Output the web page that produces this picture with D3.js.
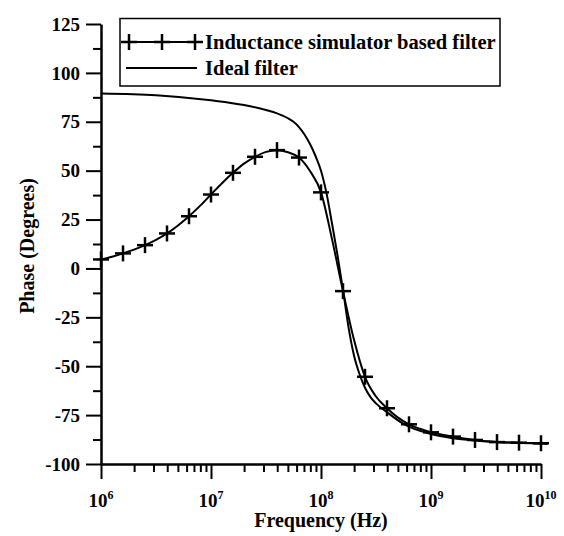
<!DOCTYPE html>
<html>
<head>
<meta charset="utf-8">
<script src="https://cdn.jsdelivr.net/npm/d3@7"></script>
<style>
  html, body { margin: 0; padding: 0; background: #fff; }
  svg { display: block; }
  text { font-family: "Liberation Serif", "Times New Roman", serif; font-weight: bold; fill: #000; }
</style>
</head>
<body>
<svg id="chart" width="564" height="536"></svg>
<script>
// ---- data (log10 of frequency in Hz, phase in degrees) ----
const seriesNames = ["Inductance simulator based filter", "Ideal filter"];

const simLogF = [6.0, 6.1, 6.2, 6.3, 6.4, 6.5, 6.6, 6.7, 6.8, 6.9, 7.0, 7.1, 7.2, 7.3, 7.4, 7.5, 7.6, 7.7, 7.8, 7.9,
                 8.0, 8.1, 8.2, 8.3, 8.4, 8.5, 8.6, 8.7, 8.8, 8.9, 9.0, 9.1, 9.2, 9.3, 9.4, 9.5, 9.6, 9.7, 9.8, 9.9, 10.0, 10.06];
const simPhase = [4.6, 6.0, 7.7, 9.6, 11.9, 14.6, 17.9, 22.0, 26.7, 32.0, 37.8, 43.6, 48.9, 53.6, 57.1, 59.6, 60.5, 59.4, 56.7, 49.8,
                  38.9, 15.0, -11.6, -36.5, -55.4, -65.5, -71.5, -76.3, -79.7, -82.0, -83.8, -85.0, -86.0, -87.0, -87.7, -88.3, -88.8, -89.0, -89.1, -89.3, -89.4, -89.5];

const markerLogF = [6.0, 6.2, 6.4, 6.6, 6.8, 7.0, 7.2, 7.4, 7.6, 7.8, 8.0, 8.2, 8.4, 8.6, 8.8, 9.0, 9.2, 9.4, 9.6, 9.8, 10.0];
const markerPhase = [4.6, 7.7, 11.9, 17.9, 26.7, 37.8, 48.9, 57.1, 60.5, 56.7, 38.9, -11.6, -55.4, -71.5, -79.7, -83.8, -86.0, -87.7, -88.8, -89.1, -89.4];

const idealLogF = [6.0, 6.5, 7.0, 7.3, 7.5, 7.6, 7.7, 7.75, 7.8, 7.85, 7.9, 7.95, 8.0, 8.05, 8.1, 8.15, 8.2, 8.25, 8.3, 8.35,
                   8.4, 8.45, 8.5, 8.6, 8.75, 9.0, 9.2, 9.4, 9.6, 9.8, 10.0, 10.06];
const idealPhase = [89.5, 88.6, 86.0, 83.6, 81.0, 79.3, 76.8, 75.0, 72.3, 68.5, 63.6, 57.5, 50.0, 38.5, 23.0, 6.8, -11.0, -30.0, -44.5, -54.0,
                    -61.0, -65.8, -69.0, -73.5, -79.5, -84.7, -86.8, -88.0, -88.8, -89.2, -89.5, -89.6];

const xMajorExp = [6, 7, 8, 9, 10];
const yMajorTicks = [-100, -75, -50, -25, 0, 25, 50, 75, 100, 125];
const yMinorTicks = [-87.5, -62.5, -37.5, -12.5, 12.5, 37.5, 62.5, 87.5, 112.5];
const xLabel = "Frequency (Hz)";
const yLabel = "Phase (Degrees)";

// ---- layout ----
const svg = d3.select("#chart");
const pLeft = 101, pRight = 541, pTop = 24, pBottom = 464;

const x = d3.scaleLog().domain([1e6, 1e10]).range([pLeft, pRight]);
const y = d3.scaleLinear().domain([-100, 125]).range([pBottom, pTop]);

// minor log ticks
const xMinor = [];
for (let e = 6; e < 10; e++) for (let m = 2; m <= 9; m++) xMinor.push(m * Math.pow(10, e));

// x axis
const gx = svg.append("g").attr("transform", `translate(0,${pBottom})`);
gx.call(d3.axisBottom(x).tickValues(xMinor).tickSize(8).tickFormat(""))
  .call(g => g.select(".domain").remove());
gx.append("g").call(d3.axisBottom(x).tickValues(xMajorExp.map(e => Math.pow(10, e))).tickSize(15).tickSizeOuter(0).tickFormat(""));
gx.selectAll("line").attr("stroke", "#000").attr("stroke-width", 2);
gx.selectAll(".domain").attr("stroke", "#000").attr("stroke-width", 2.5);

xMajorExp.forEach(e => {
  const t = svg.append("text")
    .attr("x", x(Math.pow(10, e)))
    .attr("y", 507)
    .attr("text-anchor", "middle")
    .style("font-size", "19px");
  t.append("tspan").text("10");
  t.append("tspan").attr("dy", -8).style("font-size", "12px").text(String(e));
});

// y axis
const gy = svg.append("g").attr("transform", `translate(${pLeft},0)`);
gy.call(d3.axisLeft(y).tickValues(yMinorTicks).tickSize(8).tickFormat(""))
  .call(g => g.select(".domain").remove());
gy.append("g").call(d3.axisLeft(y).tickValues(yMajorTicks).tickSize(15).tickSizeOuter(0).tickFormat(""));
gy.selectAll("line").attr("stroke", "#000").attr("stroke-width", 2);
gy.selectAll(".domain").attr("stroke", "#000").attr("stroke-width", 2.5);

yMajorTicks.forEach(v => {
  svg.append("text")
    .attr("x", 80)
    .attr("y", y(v))
    .attr("dy", "0.35em")
    .attr("text-anchor", "end")
    .style("font-size", "19px")
    .text(String(v));
});

// axis titles
svg.append("text")
  .attr("x", (pLeft + pRight) / 2)
  .attr("y", 527)
  .attr("text-anchor", "middle")
  .style("font-size", "20px")
  .text(xLabel);

svg.append("text")
  .attr("transform", `translate(34,${(pTop + pBottom) / 2 + 2}) rotate(-90)`)
  .attr("text-anchor", "middle")
  .style("font-size", "20px")
  .text(yLabel);

// lines
const line = d3.line()
  .x(d => x(Math.pow(10, d[0])))
  .y(d => y(d[1]))
  .curve(d3.curveMonotoneX);

svg.append("path")
  .datum(idealLogF.map((e, i) => [e, idealPhase[i]]))
  .attr("d", line)
  .attr("fill", "none")
  .attr("stroke", "#000")
  .attr("stroke-width", 2);

svg.append("path")
  .datum(simLogF.map((e, i) => [e, simPhase[i]]))
  .attr("d", line)
  .attr("fill", "none")
  .attr("stroke", "#000")
  .attr("stroke-width", 2);

function drawPlus(g, cx, cy) {
  g.append("line").attr("x1", cx - 8).attr("x2", cx + 8).attr("y1", cy).attr("y2", cy)
    .attr("stroke", "#000").attr("stroke-width", 2.5);
  g.append("line").attr("x1", cx).attr("x2", cx).attr("y1", cy - 8).attr("y2", cy + 8)
    .attr("stroke", "#000").attr("stroke-width", 2.5);
}
const gm = svg.append("g");
markerLogF.forEach((e, i) => drawPlus(gm, x(Math.pow(10, e)), y(markerPhase[i])));

// legend
const lg = svg.append("g");
lg.append("rect").attr("x", 120).attr("y", 18.5).attr("width", 380).attr("height", 67.5)
  .attr("fill", "#fff").attr("stroke", "#000").attr("stroke-width", 1.5);
lg.append("line").attr("x1", 122).attr("x2", 198).attr("y1", 42).attr("y2", 42)
  .attr("stroke", "#000").attr("stroke-width", 2);
[129, 162, 195].forEach(cx => drawPlus(lg, cx, 42));
lg.append("text").attr("x", 205).attr("y", 49).style("font-size", "20.5px").text(seriesNames[0]);
lg.append("line").attr("x1", 126).attr("x2", 197).attr("y1", 68).attr("y2", 68)
  .attr("stroke", "#000").attr("stroke-width", 2);
lg.append("text").attr("x", 205).attr("y", 75).style("font-size", "20.5px").text(seriesNames[1]);
</script>
</body>
</html>
